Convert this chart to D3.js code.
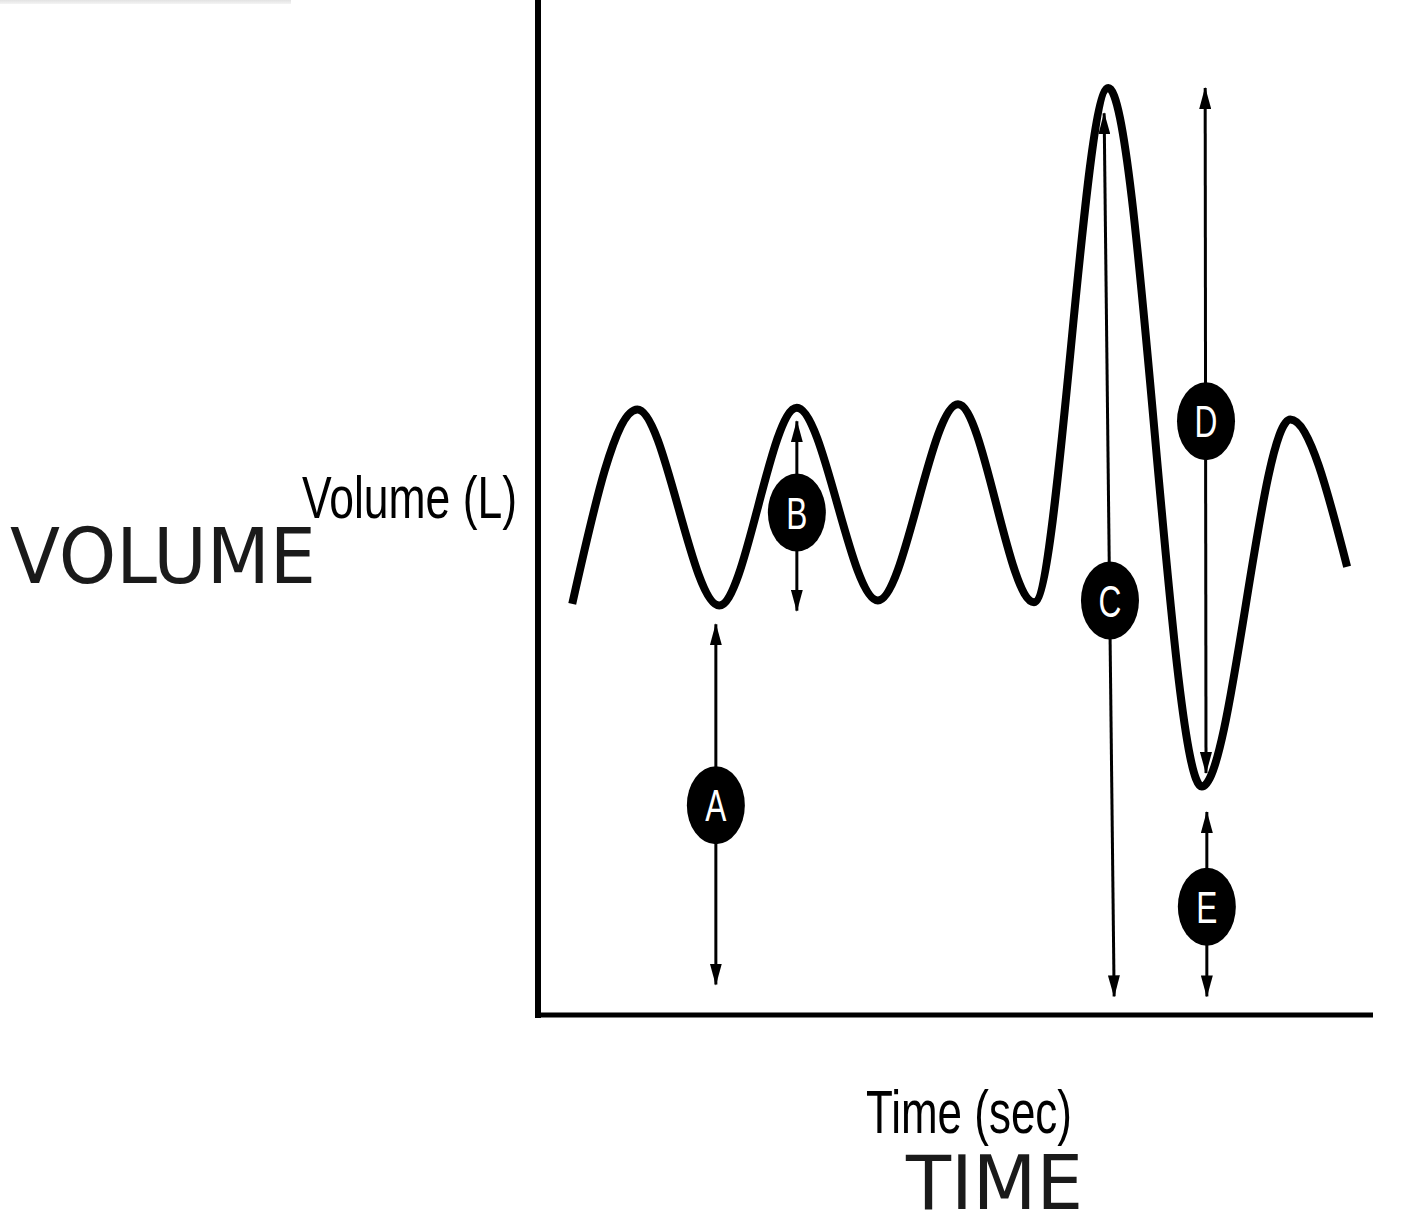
<!DOCTYPE html>
<html>
<head>
<meta charset="utf-8">
<script src="https://cdn.jsdelivr.net/npm/d3@7"></script>
<style>
  html, body { margin: 0; padding: 0; background: #ffffff; }
  svg { display: block; }
</style>
</head>
<body>
<svg id="chart" width="1423" height="1220"></svg>
<script>
// ---- data (time in s, volume in L) ----
const waveTime   = [0.41, 1.19, 2.17, 3.10, 4.07, 5.03, 5.94, 6.83, 7.95, 9.01, 9.69];
const waveVolume = [2.43, 3.58, 2.42, 3.59, 2.45, 3.61, 2.44, 5.48, 1.35, 3.52, 2.65];

const markLabels  = ["A", "B", "C", "D", "E"];
const markTimeTop = [2.13, 3.10, 6.78, 7.99, 8.01];
const markTimeBot = [2.13, 3.10, 6.90, 8.00, 8.01];
const markVolTop  = [2.31, 3.51, 5.33, 5.48, 1.20];
const markVolBot  = [0.18, 2.39, 0.11, 1.43, 0.11];
const markTimeLbl = [2.13, 3.10, 6.85, 8.00, 8.01];
const markVolLbl  = [1.24, 2.97, 2.45, 3.51, 0.64];

const xAxisLabel = "Time (sec)";
const yAxisLabel = "Volume (L)";
const xTitle = "TIME";
const yTitle = "VOLUME";

// ---- layout ----
const svg = d3.select("#chart");
const x = d3.scaleLinear().domain([0, 10]).range([538, 1373]);
const y = d3.scaleLinear().domain([0, 6]).range([1015, 0]);

const defs = svg.append("defs");
// light gray strip top-left
const grad = defs.append("linearGradient")
  .attr("id", "strip").attr("x1", 0).attr("y1", 0).attr("x2", 0).attr("y2", 1);
grad.append("stop").attr("offset", "0%").attr("stop-color", "#e2e2e2");
grad.append("stop").attr("offset", "100%").attr("stop-color", "#f4f4f4");
svg.append("rect").attr("x", 0).attr("y", 0).attr("width", 291).attr("height", 4)
  .attr("fill", "url(#strip)");

// arrow marker
defs.append("marker")
  .attr("id", "head")
  .attr("markerUnits", "userSpaceOnUse")
  .attr("viewBox", "0 0 22 12")
  .attr("refX", 21).attr("refY", 6)
  .attr("markerWidth", 22).attr("markerHeight", 12)
  .attr("orient", "auto-start-reverse")
  .append("path").attr("d", "M0,0 L22,6 L0,12 Z").attr("fill", "#000");

// axes
const yAxis = d3.axisLeft(y).ticks(0).tickSizeOuter(0);
const xAxis = d3.axisBottom(x).ticks(0).tickSizeOuter(0);
const gy = svg.append("g").attr("transform", `translate(${x(0)},0)`).call(yAxis);
gy.select(".domain").attr("stroke", "#000").attr("stroke-width", 6)
  .attr("d", `M0,${y(6)}V${y(0) + 3}`);
const gx = svg.append("g").attr("transform", `translate(0,${y(0)})`).call(xAxis);
gx.select(".domain").attr("stroke", "#000").attr("stroke-width", 5)
  .attr("d", `M${x(0) - 3},0H${x(10)}`);

// wave
const wave = waveTime.map((t, i) => ({ t, v: waveVolume[i] }));
const line = d3.line().x(d => x(d.t)).y(d => y(d.v)).curve(d3.curveMonotoneX);
svg.append("path").datum(wave)
  .attr("d", line)
  .attr("fill", "none").attr("stroke", "#000").attr("stroke-width", 8)
  .attr("stroke-linecap", "butt");

// markers
const marks = markLabels.map((l, i) => ({
  l, tt: markTimeTop[i], tb: markTimeBot[i], vt: markVolTop[i], vb: markVolBot[i],
  tl: markTimeLbl[i], vl: markVolLbl[i]
}));
const g = svg.append("g");
g.selectAll("line.arrow").data(marks).join("line")
  .attr("class", "arrow")
  .attr("x1", d => x(d.tt)).attr("y1", d => y(d.vt))
  .attr("x2", d => x(d.tb)).attr("y2", d => y(d.vb))
  .attr("stroke", "#000").attr("stroke-width", 3)
  .attr("marker-start", "url(#head)").attr("marker-end", "url(#head)");
g.selectAll("ellipse").data(marks).join("ellipse")
  .attr("cx", d => x(d.tl)).attr("cy", d => y(d.vl))
  .attr("rx", 29).attr("ry", 39).attr("fill", "#000");
g.selectAll("text.lbl").data(marks).join("text")
  .attr("class", "lbl")
  .attr("transform", d => `translate(${x(d.tl)},${y(d.vl) + 16}) scale(0.72,1)`)
  .attr("text-anchor", "middle")
  .attr("font-family", "'Liberation Sans', Arial, sans-serif")
  .attr("font-size", 44).attr("fill", "#fff")
  .text(d => d.l);

// axis labels
svg.append("text").attr("x", 302).attr("y", 518)
  .attr("font-family", "'Liberation Sans', Arial, sans-serif")
  .attr("font-size", 60).attr("fill", "#000")
  .attr("textLength", 215).attr("lengthAdjust", "spacingAndGlyphs")
  .text(yAxisLabel);
svg.append("text").attr("x", 866).attr("y", 1133)
  .attr("font-family", "'Liberation Sans', Arial, sans-serif")
  .attr("font-size", 61).attr("fill", "#000")
  .attr("textLength", 206).attr("lengthAdjust", "spacingAndGlyphs")
  .text(xAxisLabel);

// titles
svg.append("text").attr("x", 10).attr("y", 583)
  .attr("font-family", "'DejaVu Sans', sans-serif")
  .attr("font-size", 76).attr("fill", "#1a1a1a")
  .attr("textLength", 306).attr("lengthAdjust", "spacingAndGlyphs")
  .text(yTitle);
svg.append("text").attr("x", 906).attr("y", 1209)
  .attr("font-family", "'DejaVu Sans', sans-serif")
  .attr("font-size", 75).attr("fill", "#1a1a1a")
  .attr("textLength", 177).attr("lengthAdjust", "spacingAndGlyphs")
  .text(xTitle);
</script>
</body>
</html>
